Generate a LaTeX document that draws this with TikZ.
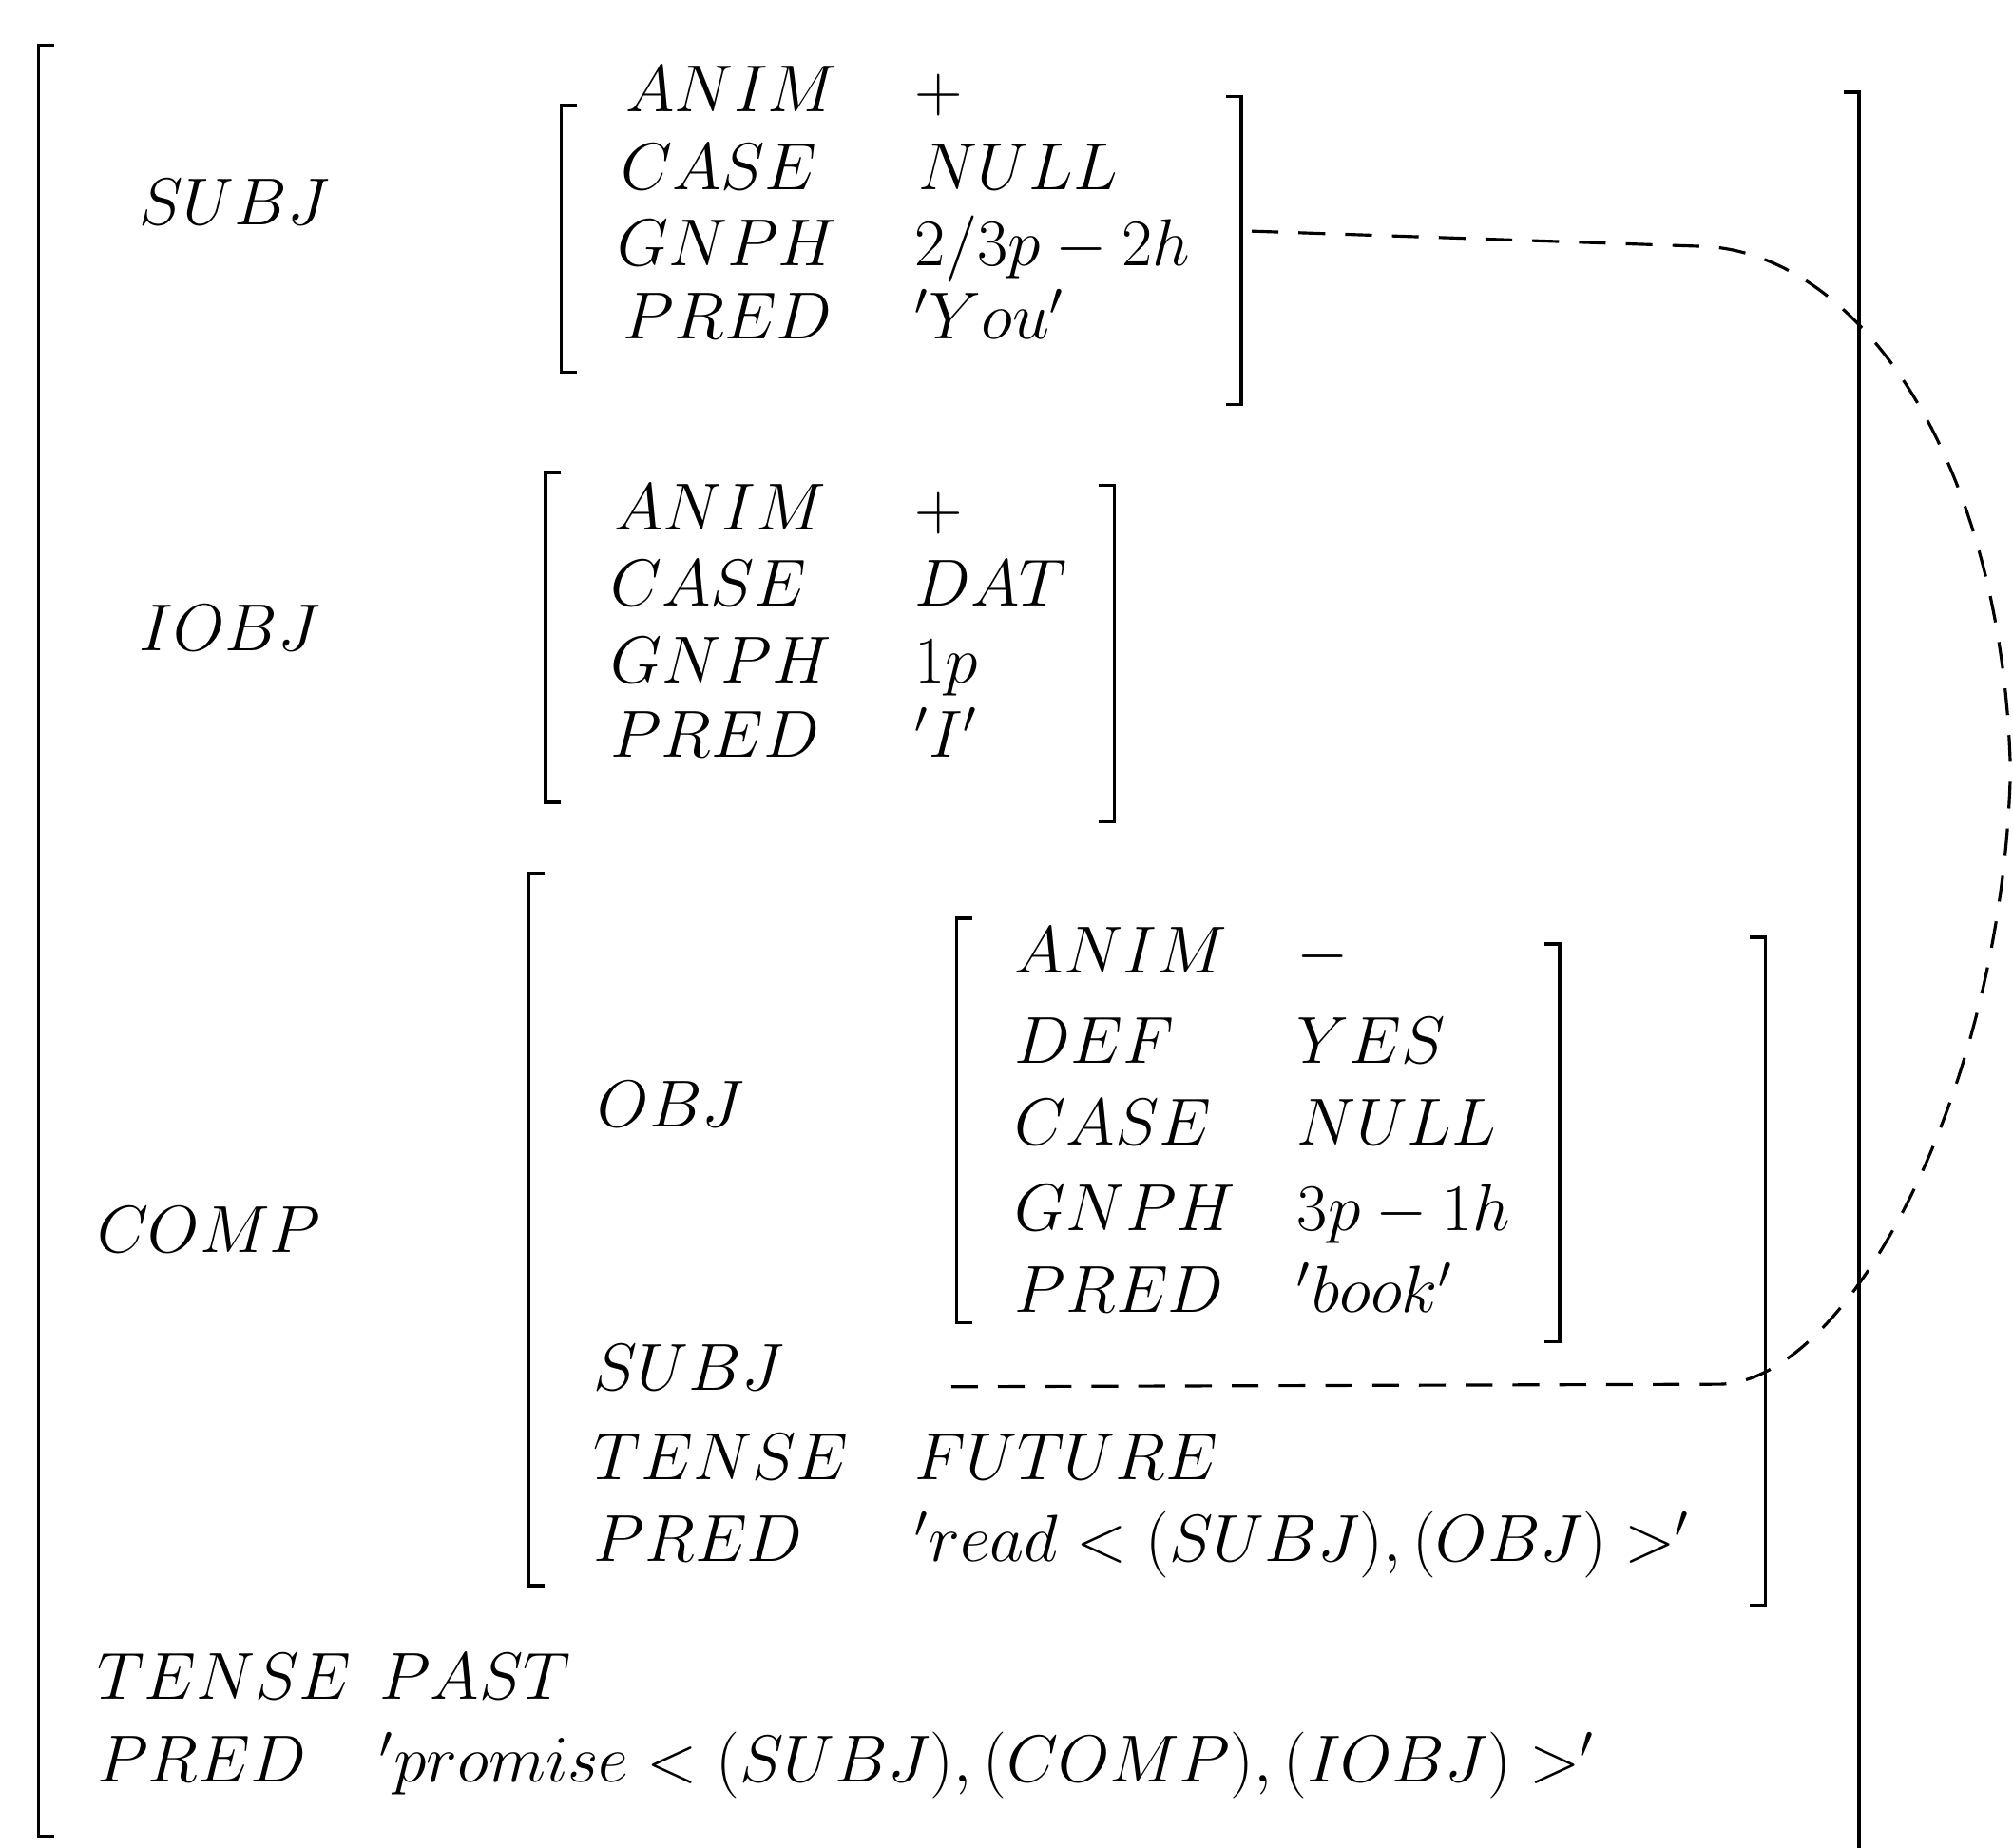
\documentclass[tikz,border=0pt]{standalone}
\usepackage{amsmath,amssymb}
\usepackage{tikz}
\usetikzlibrary{positioning}

\newcommand{\fv}[1]{\scalebox{0.96}{$#1$}}

\begin{document}
\begin{tikzpicture}[
    x=0.013508cm, y=-0.013508cm,
    feat/.style={anchor=base west, inner sep=0pt, font=\fontsize{20.74}{24}\selectfont},
    brak/.style={line width=1pt},
    link/.style={dash pattern=on 8pt off 6pt, line width=0.9pt}
]
\useasboundingbox (0,0) rectangle (1568,1439);

% outer f-structure
\draw[brak] (42,35) -- (30,35) -- (30,1430) -- (42,1430);
\draw[brak] (1436,72) -- (1448,72) -- (1448,1445);

% SUBJ
\node[feat] (subj) at (108,175) {\fv{SUBJ}};
\draw[brak] (449,82) -- (437,82) -- (437,290) -- (449,290);
\draw[brak] (955,75) -- (967,75) -- (967,315) -- (955,315);
\node[feat] (sanim) at (487,87) {\fv{ANIM}};
\node[feat] (sanimv) at (712,87) {\fv{+}};
\node[feat] (scase) at (483,148) {\fv{CASE}};
\node[feat] (scasev) at (715,148) {\fv{NULL}};
\node[feat] (sgnph) at (480,207) {\fv{GNPH}};
\node[feat] (sgnphv) at (712,207) {\fv{2/3p - 2h}};
\node[feat] (spred) at (485,264) {\fv{PRED}};
\node[feat] (spredv) at (712,264) {\fv{'You'}};
\coordinate (sR) at (975,180);

% IOBJ
\node[feat] (iobj) at (108,507) {\fv{IOBJ}};
\draw[brak] (437,368) -- (425,368) -- (425,625) -- (437,625);
\draw[brak] (856,378) -- (868,378) -- (868,640) -- (856,640);
\node[feat] (ianim) at (478,413) {\fv{ANIM}};
\node[feat] (ianimv) at (712,413) {\fv{+}};
\node[feat] (icase) at (475,472) {\fv{CASE}};
\node[feat] (icasev) at (712,472) {\fv{DAT}};
\node[feat] (ignph) at (475,532) {\fv{GNPH}};
\node[feat] (ignphv) at (712,532) {\fv{1p}};
\node[feat] (ipred) at (475,590) {\fv{PRED}};
\node[feat] (ipredv) at (712,590) {\fv{'I'}};

% COMP
\node[feat] (comp) at (75,975) {\fv{COMP}};
\draw[brak] (424,680) -- (412,680) -- (412,1235) -- (424,1235);
\draw[brak] (1363,730) -- (1375,730) -- (1375,1250) -- (1363,1250);
\node[feat] (obj) at (465,878) {\fv{OBJ}};
\draw[brak] (757,715) -- (745,715) -- (745,1030) -- (757,1030);
\draw[brak] (1203,735) -- (1215,735) -- (1215,1045) -- (1203,1045);
\node[feat] (oanim) at (790,758) {\fv{ANIM}};
\node[feat] (oanimv) at (1010,758) {\fv{-}};
\node[feat] (odef) at (790,828) {\fv{DEF}};
\node[feat] (odefv) at (1010,828) {\fv{YES}};
\node[feat] (ocase) at (790,892) {\fv{CASE}};
\node[feat] (ocasev) at (1010,892) {\fv{NULL}};
\node[feat] (ognph) at (790,958) {\fv{GNPH}};
\node[feat] (ognphv) at (1010,958) {\fv{3p - 1h}};
\node[feat] (opred) at (790,1022) {\fv{PRED}};
\node[feat] (opredv) at (1010,1022) {\fv{'book'}};
\node[feat] (csubj) at (462,1083) {\fv{SUBJ}};
\coordinate (csubjv) at (727,1080);
\node[feat] (ctense) at (462,1152) {\fv{TENSE}};
\node[feat] (ctensev) at (712,1152) {\fv{FUTURE}};
\node[feat] (cpred) at (462,1216) {\fv{PRED}};
\node[feat] (cpredv) at (712,1216) {\fv{'read < (SUBJ),(OBJ) >'}};

% TENSE, PRED
\node[feat] (tense) at (75,1323) {\fv{TENSE}};
\node[feat] (tensev) at (295,1323) {\fv{PAST}};
\node[feat] (pred) at (75,1388) {\fv{PRED}};
\node[feat] (predv) at (295,1388) {\fv{'promise < (SUBJ),(COMP),(IOBJ) >'}};

% structure sharing
\draw[link] (sR) -- (1330,192) .. controls (1450,200) and (1560,360) .. (1566,600)
    .. controls (1560,850) and (1440,1075) .. (1340,1078) -- (csubjv);
\end{tikzpicture}
\end{document}
